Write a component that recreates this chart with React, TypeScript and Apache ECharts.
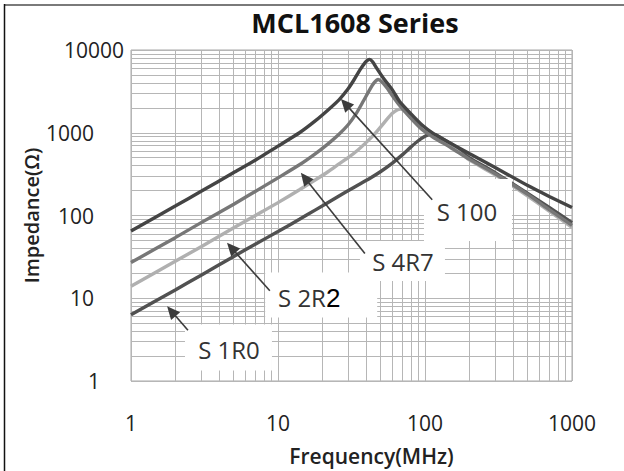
import React, { useEffect, useRef } from "react";
import * as echarts from "echarts";

const TITLE = "MCL1608 Series";
const X_NAME = "Frequency(MHz)";
const Y_NAME = "Impedance(Ω)";
const X_MIN = 1;
const X_MAX = 1000;
const Y_MIN = 1;
const Y_MAX = 10000;
const X_MINOR = [2, 3, 4, 5, 6, 7, 8, 9, 20, 30, 40, 50, 60, 70, 80, 90, 200, 300, 400, 500, 600, 700, 800, 900];
const Y_MINOR = [2, 3, 4, 5, 6, 7, 8, 9, 20, 30, 40, 50, 60, 70, 80, 90, 200, 300, 400, 500, 600, 700, 800, 900, 2000, 3000, 4000, 5000, 6000, 7000, 8000, 9000];

const SERIES_NAMES = ["S 100", "S 4R7", "S 2R2", "S 1R0"];
const SERIES_COLORS = ["#444444", "#777777", "#b0b0b0", "#515151"];

const S100: [number, number][] = [
  [1, 65], [2, 130], [3, 196], [5, 330], [7, 465], [10, 690], [14, 1000], [18, 1400],
  [22, 1900], [26, 2500], [30, 3400], [33, 4400], [36, 5700], [39, 7000], [41, 7600],
  [42, 7700], [44, 7200], [47, 6000], [52, 4600], [60, 3300], [67, 2400], [80, 1700],
  [95, 1250], [113, 990], [150, 740], [200, 560], [300, 380], [500, 230], [700, 170], [1000, 125],
];
const S4R7: [number, number][] = [
  [1, 27], [2, 54], [3, 82], [5, 137], [8, 225], [10, 285], [14, 410], [18, 560],
  [22, 740], [26, 960], [30, 1250], [34, 1700], [38, 2400], [42, 3300], [45, 4000],
  [48, 4400], [51, 4100], [55, 3500], [60, 2800], [67, 2150], [80, 1500], [95, 1100],
  [113, 890], [150, 660], [200, 480], [300, 320], [500, 180], [700, 118], [1000, 76],
];
const S2R2: [number, number][] = [
  [1, 14], [2, 28], [3, 42], [5, 71], [8, 114], [10, 143], [14, 205], [18, 270],
  [22, 340], [26, 420], [30, 500], [35, 620], [40, 770], [45, 950], [50, 1180],
  [55, 1450], [60, 1720], [65, 1900], [68, 1930], [72, 1850], [80, 1600], [90, 1320],
  [100, 1150], [113, 960], [150, 690], [200, 470], [300, 310], [500, 172], [700, 113], [1000, 72],
];
const S1R0: [number, number][] = [
  [1, 6.3], [2, 12.6], [3, 19], [5, 32], [7, 45], [10, 64], [14, 90], [18, 117],
  [25, 165], [33, 220], [42, 280], [50, 340], [60, 430], [70, 540], [80, 670],
  [90, 800], [100, 905], [108, 960], [118, 940], [130, 860], [150, 740], [200, 500],
  [300, 330], [500, 185], [700, 125], [1000, 82],
];
const SERIES_DATA = [S100, S4R7, S2R2, S1R0];

// annotation anchors in data coordinates (frequency, impedance)
const ARROW_TIPS: [number, number][] = [[26.8, 2560], [14.3, 328], [4.5, 46.7], [1.76, 8.0]];
const ARROW_TAILS: [number, number][] = [[112, 155], [39, 34.8], [8.8, 12.3], [2.44, 4.1]];
const LABEL_POS: [number, number][] = [[193, 113], [70.8, 28.1], [16.3, 10.2], [4.64, 2.41]];
// label box extents around the label centre: [left, right, top, bottom] in px
const LABEL_BOX: [number, number, number, number][] = [
  [43, 45, 32, 30], [43, 42, 20, 20], [44, 68, 25, 20], [44, 43, 25, 21],
];

const FONT = "'Open Sans', 'Liberation Sans', sans-serif";
const GRID_COLOR = "#b6b6b6";

export default function App() {
  const ref = useRef<HTMLDivElement>(null);
  useEffect(() => {
    document.body.style.margin = "0";
    if (!ref.current) return;
    const chart = echarts.init(ref.current, null, { renderer: "svg" });
    const option: any = {
      animation: false,
      backgroundColor: "#ffffff",
      title: {
        text: TITLE,
        left: 350,
        top: 4,
        textAlign: "center",
        textStyle: { fontFamily: FONT, fontSize: 27, fontWeight: "bold", color: "#111" },
      },
      grid: { left: 131, right: 52, top: 50, bottom: 76, show: true, borderColor: "#a9a9a9", borderWidth: 1 },
      xAxis: {
        type: "log",
        logBase: 10,
        min: X_MIN,
        max: X_MAX,
        name: X_NAME,
        nameLocation: "middle",
        nameGap: 64,
        nameMoveOverlap: false,
        nameTextStyle: { fontFamily: FONT, fontSize: 21, fontWeight: 600, color: "#222", padding: [0, 0, 0, 40] },
        axisLine: { show: false },
        axisTick: { show: false },
        axisLabel: { margin: 31, fontFamily: FONT, fontSize: 21, color: "#222", formatter: (v: number) => String(v) },
        splitLine: { show: true, lineStyle: { color: GRID_COLOR, width: 1 } },
      },
      yAxis: {
        type: "log",
        logBase: 10,
        min: Y_MIN,
        max: Y_MAX,
        name: Y_NAME,
        nameLocation: "middle",
        nameGap: 90,
        nameMoveOverlap: false,
        nameTextStyle: { fontFamily: FONT, fontSize: 20, fontWeight: 600, color: "#222" },
        axisLine: { show: false },
        axisTick: { show: false },
        axisLabel: {
          margin: 37,
          fontFamily: FONT,
          fontSize: 21,
          color: "#222",
          verticalAlign: "middle",
          alignMinLabel: "center",
          alignMaxLabel: "center",
          formatter: (v: number) => String(v),
        },
        splitLine: { show: true, lineStyle: { color: GRID_COLOR, width: 1 } },
      },
      series: [
        {
          type: "line",
          name: "minor-grid",
          data: [],
          silent: true,
          z: 1,
          markLine: {
            silent: true,
            z: 1,
            symbol: ["none", "none"],
            label: { show: false },
            lineStyle: { color: GRID_COLOR, width: 1, type: "solid" },
            data: [
              ...X_MINOR.map((v) => ({ xAxis: v })),
              ...Y_MINOR.map((v) => ({ yAxis: v })),
            ],
          },
        },
        ...SERIES_DATA.map((d, i) => ({
          type: "line",
          name: SERIES_NAMES[i],
          data: d,
          showSymbol: false,
          smooth: 0.2,
          z: 10 - i,
          lineStyle: { color: SERIES_COLORS[i], width: 3.4 },
          itemStyle: { color: SERIES_COLORS[i] },
        })),
      ],
    };
    chart.setOption(option);

    const graphics: any[] = [];
    // outer frame
    graphics.push({ type: "line", shape: { x1: 4, y1: 5, x2: 624, y2: 5 }, style: { stroke: "#7a7a7a", lineWidth: 2 }, z: 100 });
    graphics.push({ type: "line", shape: { x1: 4.5, y1: 4, x2: 4.5, y2: 471 }, style: { stroke: "#111", lineWidth: 1.5 }, z: 100 });

    SERIES_NAMES.forEach((name, i) => {
      const tip = chart.convertToPixel({ gridIndex: 0 }, ARROW_TIPS[i]) as number[];
      const tail = chart.convertToPixel({ gridIndex: 0 }, ARROW_TAILS[i]) as number[];
      const lab = chart.convertToPixel({ gridIndex: 0 }, LABEL_POS[i]) as number[];
      const [bl, br, bt, bb] = LABEL_BOX[i];
      graphics.push({
        type: "rect",
        shape: { x: lab[0] - bl, y: lab[1] - bt, width: bl + br, height: bt + bb },
        style: { fill: "#ffffff" },
        z: 50,
      });
      const dx = tip[0] - tail[0];
      const dy = tip[1] - tail[1];
      const len = Math.sqrt(dx * dx + dy * dy);
      const ux = dx / len;
      const uy = dy / len;
      const headLen = 13;
      const headW = 6;
      const bx = tip[0] - ux * headLen;
      const by = tip[1] - uy * headLen;
      graphics.push({
        type: "line",
        shape: { x1: tail[0], y1: tail[1], x2: bx + ux * 2, y2: by + uy * 2 },
        style: { stroke: "#3c3c3c", lineWidth: 1.6 },
        z: 60,
      });
      graphics.push({
        type: "polygon",
        shape: {
          points: [
            [tip[0], tip[1]],
            [bx - uy * headW, by + ux * headW],
            [bx + uy * headW, by - ux * headW],
          ],
        },
        style: { fill: "#3c3c3c" },
        z: 60,
      });
      const isS2R2 = name === "S 2R2";
      graphics.push({
        type: "text",
        x: lab[0],
        y: lab[1],
        style: isS2R2
          ? {
              text: "{a|S 2R}{b|2}",
              align: "center",
              verticalAlign: "middle",
              rich: {
                a: { fontFamily: FONT, fontSize: 24, fill: "#333" },
                b: { fontFamily: "'Liberation Sans', Arial, sans-serif", fontSize: 26, fill: "#000" },
              },
            }
          : {
              text: name,
              fontFamily: FONT,
              fontSize: 24,
              fill: "#333",
              align: "center",
              verticalAlign: "middle",
            },
        z: 70,
      });
    });
    chart.setOption({ graphic: graphics });

    return () => chart.dispose();
  }, []);
  return <div ref={ref} style={{ width: 624, height: 471 }} />;
}
